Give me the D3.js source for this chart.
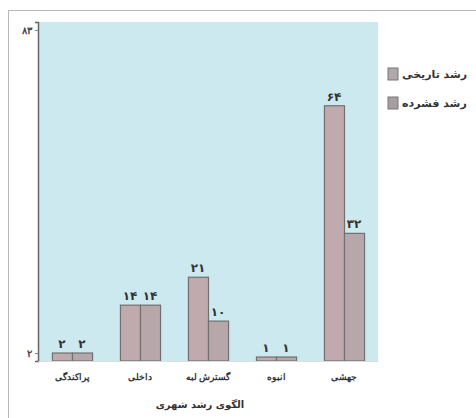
<!DOCTYPE html>
<html>
<head>
<meta charset="utf-8">
<script src="https://cdn.jsdelivr.net/npm/d3@7"></script>
<style>
  body { margin: 0; background: #fff; }
  svg { display: block; font-family: "DejaVu Sans", sans-serif; }
</style>
</head>
<body>
<div class="chart"></div>
<script>
var categories = ["پراکندگی", "داخلی", "گسترش لبه", "انبوه", "جهشی"];
var seriesNames = ["رشد تاریخی", "رشد فشرده"];
var historical = [2, 14, 21, 1, 64];
var compact = [2, 14, 10, 1, 32];
var yTicks = [2, 83];
var xTitle = "الگوی رشد شهری";

var svgWidth = 476;
var svgHeight = 418;

var plot = { left: 38, right: 378, top: 22, bottom: 361 };

var faDigits = "۰۱۲۳۴۵۶۷۸۹";
function toFa(n) {
  return String(n).replace(/\d/g, d => faDigits[+d]);
}

var svg = d3.select(".chart")
  .append("svg")
  .attr("width", svgWidth)
  .attr("height", svgHeight);

// outer frame
svg.append("rect")
  .attr("x", 8.5).attr("y", 10.5)
  .attr("width", svgWidth).attr("height", svgHeight)
  .attr("fill", "none")
  .attr("stroke", "#b8b8b8");

// plot background
svg.append("rect")
  .attr("x", plot.left).attr("y", plot.top)
  .attr("width", plot.right - plot.left)
  .attr("height", plot.bottom - plot.top)
  .attr("fill", "#cbe9ef");

var xScale = d3.scaleBand()
  .domain(categories)
  .range([plot.left, plot.right])
  .paddingInner(0.41)
  .paddingOuter(0.205);

var subScale = d3.scaleBand()
  .domain([0, 1])
  .range([0, xScale.bandwidth()]);

var yScale = d3.scaleLinear()
  .domain([0, 85])
  .range([plot.bottom, plot.top]);

var data = categories.map((c, i) => ({ cat: c, values: [historical[i], compact[i]] }));
var fills = ["#c0aaae", "#b7a7aa"];

var groups = svg.selectAll(".grp")
  .data(data)
  .enter()
  .append("g")
  .attr("transform", d => `translate(${xScale(d.cat)},0)`);

groups.selectAll("rect")
  .data(d => d.values.map((v, k) => ({ v: v, k: k })))
  .enter()
  .append("rect")
  .attr("x", d => subScale(d.k) + 0.5)
  .attr("y", d => yScale(d.v))
  .attr("width", subScale.bandwidth())
  .attr("height", d => plot.bottom - yScale(d.v))
  .attr("fill", d => fills[d.k])
  .attr("stroke", "#707070")
  .attr("stroke-width", 1.2);

groups.selectAll("text")
  .data(d => d.values.map((v, k) => ({ v: v, k: k })))
  .enter()
  .append("text")
  .attr("x", d => subScale(d.k) + subScale.bandwidth() / 2)
  .attr("y", d => yScale(d.v) - 5)
  .attr("text-anchor", "middle")
  .attr("font-size", 12)
  .attr("font-weight", "bold")
  .attr("fill", "#333")
  .text(d => toFa(d.v));

// y axis
var leftAxis = d3.axisLeft(yScale)
  .tickValues(yTicks)
  .tickSize(3)
  .tickFormat(toFa);

var yAxis = svg.append("g")
  .attr("transform", `translate(${plot.left},0)`)
  .call(leftAxis);
yAxis.select(".domain").attr("stroke", "#666").attr("stroke-width", 1.5);
yAxis.selectAll("line").attr("stroke", "#888");
yAxis.selectAll("text").attr("font-size", 10).attr("font-weight", "bold").attr("fill", "#444");

// x axis labels
var bottomAxis = d3.axisBottom(xScale).tickSize(0).tickPadding(13);
var xAxis = svg.append("g")
  .attr("transform", `translate(0,${plot.bottom})`)
  .call(bottomAxis);
xAxis.select(".domain").attr("stroke", "#ddd");
xAxis.selectAll("text").attr("font-size", 9).attr("font-weight", "bold").attr("fill", "#333");

svg.append("text")
  .attr("x", 200)
  .attr("y", 408)
  .attr("text-anchor", "middle")
  .attr("font-size", 10)
  .attr("font-weight", "bold")
  .attr("fill", "#333")
  .text(xTitle);

// legend
var legend = svg.selectAll(".leg")
  .data(seriesNames)
  .enter()
  .append("g")
  .attr("transform", (d, i) => `translate(388,${68 + i * 29})`);

legend.append("rect")
  .attr("width", 10).attr("height", 12)
  .attr("fill", (d, i) => i === 0 ? "#b0a8aa" : "#a89ea0")
  .attr("stroke", "#777");

legend.append("text")
  .attr("x", 14)
  .attr("y", 10)
  .attr("font-size", 11)
  .attr("font-weight", "bold")
  .attr("fill", "#333")
  .text(d => d);
</script>
</body>
</html>
